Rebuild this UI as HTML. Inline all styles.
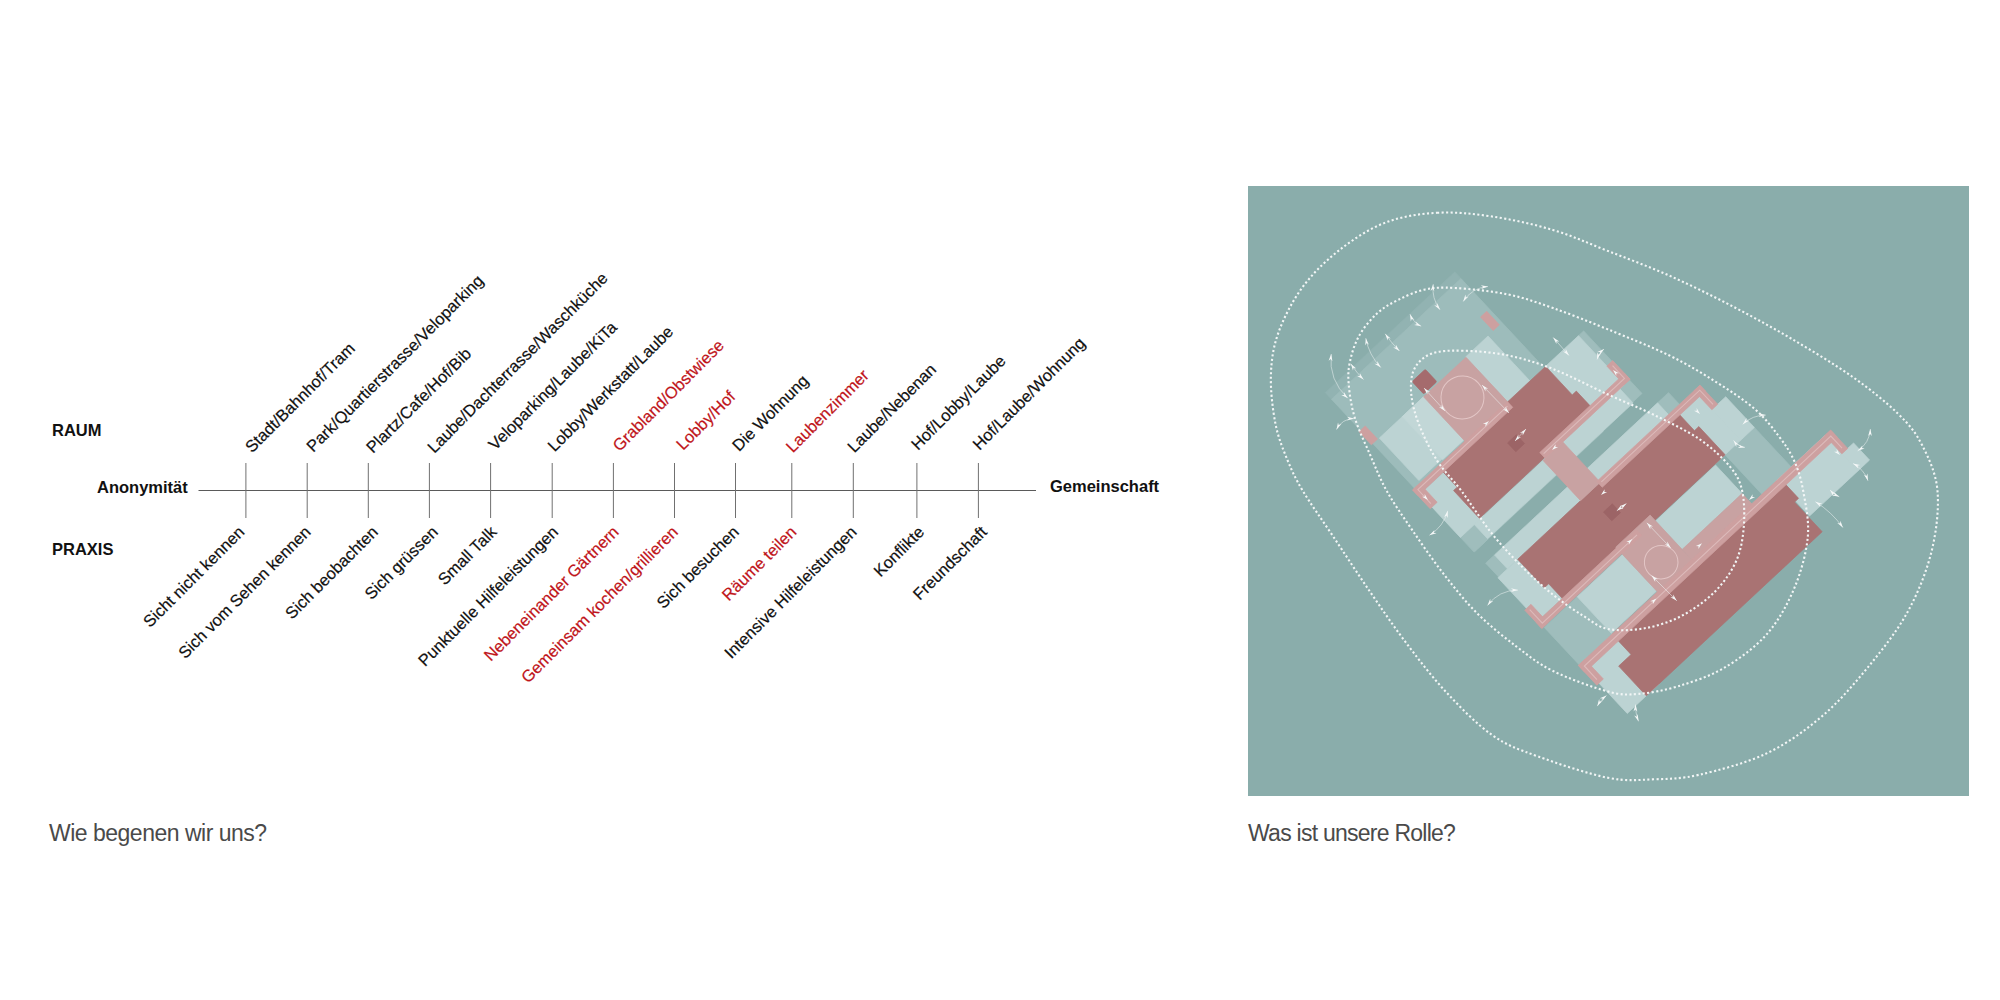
<!DOCTYPE html>
<html><head><meta charset="utf-8">
<style>
html,body{margin:0;padding:0;background:#fff;width:2000px;height:1000px;overflow:hidden}
svg{position:absolute;left:0;top:0}
</style></head><body>
<svg width="2000" height="1000" viewBox="0 0 2000 1000" font-family="Liberation Sans, sans-serif" font-size="16.5">
<text x="52" y="436.3" font-weight="bold" font-size="16.5" fill="#111">RAUM</text>
<text x="52" y="554.5" font-weight="bold" font-size="16.5" fill="#111">PRAXIS</text>
<text x="97" y="493" font-weight="bold" font-size="16.5" fill="#111">Anonymität</text>
<text x="1050" y="492" font-weight="bold" font-size="16.5" fill="#111">Gemeinschaft</text>
<line x1="198.5" y1="490.5" x2="1036" y2="490.5" stroke="#5a5a5a" stroke-width="1"/>
<line x1="245.9" y1="463" x2="245.9" y2="518" stroke="#707070" stroke-width="1"/>
<line x1="307.2" y1="463" x2="307.2" y2="518" stroke="#707070" stroke-width="1"/>
<line x1="368.3" y1="463" x2="368.3" y2="518" stroke="#707070" stroke-width="1"/>
<line x1="429.4" y1="463" x2="429.4" y2="518" stroke="#707070" stroke-width="1"/>
<line x1="490.6" y1="463" x2="490.6" y2="518" stroke="#707070" stroke-width="1"/>
<line x1="552.2" y1="463" x2="552.2" y2="518" stroke="#707070" stroke-width="1"/>
<line x1="613.4" y1="463" x2="613.4" y2="518" stroke="#707070" stroke-width="1"/>
<line x1="674.5" y1="463" x2="674.5" y2="518" stroke="#707070" stroke-width="1"/>
<line x1="735.5" y1="463" x2="735.5" y2="518" stroke="#707070" stroke-width="1"/>
<line x1="791.8" y1="463" x2="791.8" y2="518" stroke="#707070" stroke-width="1"/>
<line x1="853.3" y1="463" x2="853.3" y2="518" stroke="#707070" stroke-width="1"/>
<line x1="916.9" y1="463" x2="916.9" y2="518" stroke="#707070" stroke-width="1"/>
<line x1="978.4" y1="463" x2="978.4" y2="518" stroke="#707070" stroke-width="1"/>
<text transform="translate(251.90,453.50) rotate(-45)" fill="#111" stroke="#111" stroke-width="0.2">Stadt/Bahnhof/Tram</text>
<text transform="translate(313.20,452.90) rotate(-45)" fill="#111" stroke="#111" stroke-width="0.2">Park/Quartierstrasse/Veloparking</text>
<text transform="translate(373.05,454.00) rotate(-45)" fill="#111" stroke="#111" stroke-width="0.2">Plartz/Cafe/Hof/Bib</text>
<text transform="translate(434.15,454.00) rotate(-45)" fill="#111" stroke="#111" stroke-width="0.2">Laube/Dachterrasse/Waschküche</text>
<text transform="translate(495.35,451.00) rotate(-45)" fill="#111" stroke="#111" stroke-width="0.2">Veloparking/Laube/KiTa</text>
<text transform="translate(554.45,452.50) rotate(-45)" fill="#111" stroke="#111" stroke-width="0.2">Lobby/Werkstatt/Laube</text>
<text transform="translate(619.40,452.25) rotate(-45)" fill="#c0141a" stroke="#c0141a" stroke-width="0.2">Grabland/Obstwiese</text>
<text transform="translate(683.00,451.00) rotate(-45)" fill="#c0141a" stroke="#c0141a" stroke-width="0.2">Lobby/Hof</text>
<text transform="translate(739.00,452.25) rotate(-45)" fill="#111" stroke="#111" stroke-width="0.2">Die Wohnung</text>
<text transform="translate(792.80,453.50) rotate(-45)" fill="#c0141a" stroke="#c0141a" stroke-width="0.2">Laubenzimmer</text>
<text transform="translate(854.30,453.50) rotate(-45)" fill="#111" stroke="#111" stroke-width="0.2">Laube/Nebenan</text>
<text transform="translate(917.90,451.00) rotate(-45)" fill="#111" stroke="#111" stroke-width="0.2">Hof/Lobby/Laube</text>
<text transform="translate(979.40,451.00) rotate(-45)" fill="#111" stroke="#111" stroke-width="0.2">Hof/Laube/Wohnung</text>
<text transform="translate(245.40,533) rotate(-45)" text-anchor="end" fill="#111" stroke="#111" stroke-width="0.2">Sicht nicht kennen</text>
<text transform="translate(311.70,533) rotate(-45)" text-anchor="end" fill="#111" stroke="#111" stroke-width="0.2">Sich vom Sehen kennen</text>
<text transform="translate(379.05,533) rotate(-45)" text-anchor="end" fill="#111" stroke="#111" stroke-width="0.2">Sich beobachten</text>
<text transform="translate(438.90,533) rotate(-45)" text-anchor="end" fill="#111" stroke="#111" stroke-width="0.2">Sich grüssen</text>
<text transform="translate(497.60,533) rotate(-45)" text-anchor="end" fill="#111" stroke="#111" stroke-width="0.2">Small Talk</text>
<text transform="translate(559.20,533) rotate(-45)" text-anchor="end" fill="#111" stroke="#111" stroke-width="0.2">Punktuelle Hilfeleistungen</text>
<text transform="translate(619.80,533) rotate(-45)" text-anchor="end" fill="#c0141a" stroke="#c0141a" stroke-width="0.2">Nebeneinander Gärtnern</text>
<text transform="translate(679.00,533) rotate(-45)" text-anchor="end" fill="#c0141a" stroke="#c0141a" stroke-width="0.2">Gemeinsam kochen/grillieren</text>
<text transform="translate(740.00,533) rotate(-45)" text-anchor="end" fill="#111" stroke="#111" stroke-width="0.2">Sich besuchen</text>
<text transform="translate(797.55,533) rotate(-45)" text-anchor="end" fill="#c0141a" stroke="#c0141a" stroke-width="0.2">Räume teilen</text>
<text transform="translate(857.80,533) rotate(-45)" text-anchor="end" fill="#111" stroke="#111" stroke-width="0.2">Intensive Hilfeleistungen</text>
<text transform="translate(925.15,533) rotate(-45)" text-anchor="end" fill="#111" stroke="#111" stroke-width="0.2">Konflikte</text>
<text transform="translate(987.90,533) rotate(-45)" text-anchor="end" fill="#111" stroke="#111" stroke-width="0.2">Freundschaft</text>
<defs><clipPath id="pc"><rect x="1248" y="186" width="721" height="610"/></clipPath></defs><rect x="1248" y="186" width="721" height="610" fill="#8aadab"/>
<g clip-path="url(#pc)"><g transform="translate(1608.5,491) rotate(-43)"><rect x="-140" y="-265" width="177" height="9" fill="#92b3b2" stroke="#92b3b2" stroke-width="0.7" />
<rect x="-140" y="-256" width="177" height="209" fill="#9dbcbb" stroke="#9dbcbb" stroke-width="0.7" />
<rect x="-140" y="56" width="45" height="52" fill="#9fbdbc" stroke="#9fbdbc" stroke-width="0.7" />
<rect x="-139" y="-67" width="18" height="20" fill="#9fbdbc" stroke="#9fbdbc" stroke-width="0.7" />
<rect x="-139" y="-31" width="12" height="19" fill="#9fbdbc" stroke="#9fbdbc" stroke-width="0.7" />
<rect x="-140" y="-12" width="33" height="59" fill="#bcd3d3" stroke="#bcd3d3" stroke-width="0.7" />
<rect x="96" y="-31" width="15" height="84" fill="#9fbdbc" stroke="#9fbdbc" stroke-width="0.7" />
<rect x="110" y="53" width="40" height="54" fill="#9fbdbc" stroke="#9fbdbc" stroke-width="0.7" />
<rect x="-131.5" y="-195" width="60.5" height="58" fill="#bcd3d3" stroke="#bcd3d3" stroke-width="0.7" />
<rect x="-100" y="-195" width="29" height="59" fill="#c2d7d7" stroke="#c2d7d7" stroke-width="0.7" />
<rect x="-13" y="-195.5" width="30.6" height="61.5" fill="#bcd3d3" stroke="#bcd3d3" stroke-width="0.7" />
<rect x="-140" y="-126" width="32" height="59" fill="#bcd3d3" stroke="#bcd3d3" stroke-width="0.7" />
<rect x="39" y="-134" width="52" height="85.5" fill="#9fbdbc" stroke="#9fbdbc" stroke-width="0.7" />
<rect x="39" y="-134" width="45" height="67" fill="#bcd3d3" stroke="#bcd3d3" stroke-width="0.7" />
<rect x="-121" y="-67" width="199" height="19.4" fill="#bcd3d3" stroke="#bcd3d3" stroke-width="0.7" />
<rect x="-127" y="-31" width="223" height="19" fill="#bcd3d3" stroke="#bcd3d3" stroke-width="0.7" />
<rect x="104" y="-7" width="27.5" height="60" fill="#bcd3d3" stroke="#bcd3d3" stroke-width="0.7" />
<rect x="131" y="11" width="19" height="42" fill="#bcd3d3" stroke="#bcd3d3" stroke-width="0.7" />
<rect x="14" y="54" width="82" height="39" fill="#bcd3d3" stroke="#bcd3d3" stroke-width="0.7" />
<rect x="-95" y="56" width="62" height="50" fill="#bcd3d3" stroke="#bcd3d3" stroke-width="0.7" />
<rect x="-138" y="116" width="43" height="59.5" fill="#bcd3d3" stroke="#bcd3d3" stroke-width="0.7" />
<rect x="130" y="107" width="66.5" height="48.4" fill="#bcd3d3" stroke="#bcd3d3" stroke-width="0.7" />
<rect x="196" y="132" width="16" height="23.4" fill="#bcd3d3" stroke="#bcd3d3" stroke-width="0.7" />
<polygon points="-108,-134 39,-134 39,-95 44.6,-95 44.6,-68 -113,-68 -113,-106 -108,-106" fill="#a97373" stroke="#a97373" stroke-width="0.7"/>
<polygon points="-113,-12 104,-12 104,14.5 110,14.5 110,53 -107,53 -107,27 -113,27" fill="#a97373" stroke="#a97373" stroke-width="0.7"/>
<polygon points="-95,108 134,108 134,135 128.5,135 128.5,175.5 -112,175.5 -112,135 -95,135" fill="#a97373" stroke="#a97373" stroke-width="0.7"/>
<rect x="-71" y="-195" width="58" height="61" fill="#c8a2a2" stroke="#c8a2a2" stroke-width="0.7" />
<rect x="-27" y="-67" width="27" height="55" fill="#c8a2a2" stroke="#c8a2a2" stroke-width="0.7" />
<rect x="-33" y="46" width="47" height="62" fill="#c8a2a2" stroke="#c8a2a2" stroke-width="0.7" />
<rect x="14" y="93" width="82" height="15" fill="#c8a2a2" stroke="#c8a2a2" stroke-width="0.7" />
<rect x="-142" y="-213.5" width="8.5" height="18.0" fill="#cda0a0" stroke="#cda0a0" stroke-width="0.7" />
<rect x="25" y="-214.5" width="8.5" height="18.5" fill="#cda0a0" stroke="#cda0a0" stroke-width="0.7" />
<rect x="-69" y="-214" width="18" height="17" fill="#a56b6d" stroke="#a56b6d" stroke-width="0.7" rx="1.5"/>
<rect x="-41" y="-104" width="12" height="12" fill="#9c6466" stroke="#9c6466" stroke-width="0.7" />
<rect x="-18" y="12" width="12" height="12" fill="#9c6466" stroke="#9c6466" stroke-width="0.7" />
<rect x="-142.5" y="-134.4" width="129.5" height="7.9" fill="#cda0a0" stroke="#cda0a0" stroke-width="0.7" />
<rect x="-142.5" y="-134.4" width="9.5" height="25.8" fill="#cda0a0" stroke="#cda0a0" stroke-width="0.7" />
<rect x="-24" y="-75" width="116" height="8" fill="#cda0a0" stroke="#cda0a0" stroke-width="0.7" />
<rect x="84" y="-92.5" width="8" height="25.5" fill="#cda0a0" stroke="#cda0a0" stroke-width="0.7" />
<rect x="-2" y="-15" width="141" height="8" fill="#cda0a0" stroke="#cda0a0" stroke-width="0.7" />
<rect x="131" y="-15" width="8" height="26" fill="#cda0a0" stroke="#cda0a0" stroke-width="0.7" />
<rect x="-142.5" y="47" width="136.5" height="8" fill="#cda0a0" stroke="#cda0a0" stroke-width="0.7" />
<rect x="-142.5" y="30" width="8.5" height="25" fill="#cda0a0" stroke="#cda0a0" stroke-width="0.7" />
<rect x="-141" y="107" width="345" height="9.5" fill="#cda0a0" stroke="#cda0a0" stroke-width="0.7" />
<rect x="-141" y="107" width="9" height="27" fill="#cda0a0" stroke="#cda0a0" stroke-width="0.7" />
<rect x="196" y="107" width="8" height="25" fill="#cda0a0" stroke="#cda0a0" stroke-width="0.7" />
<polyline points="-16,-131 -138.5,-131 -138.5,-112" fill="none" stroke="#dcbaba" stroke-width="1.1"/>
<polyline points="-22,-71.5 88.5,-71.5 88.5,-89" fill="none" stroke="#dcbaba" stroke-width="1.1"/>
<polyline points="1,-11.5 135.5,-11.5 135.5,8" fill="none" stroke="#dcbaba" stroke-width="1.1"/>
<polyline points="-9,51.5 -138.5,51.5 -138.5,33" fill="none" stroke="#dcbaba" stroke-width="1.1"/>
<polyline points="-137,130 -137,111.5 200,111.5 200,128" fill="none" stroke="#dcbaba" stroke-width="1.1"/>
<circle cx="-43" cy="-168" r="21.5" fill="none" stroke="#e3c6c6" stroke-width="1"/>
<circle cx="-10" cy="88" r="16.8" fill="none" stroke="#e3c6c6" stroke-width="1"/></g><path d="M1437.1,212.8 C1454.9,211.8 1472.7,213.6 1492.0,216.5 C1511.3,219.4 1533.7,224.2 1553.0,230.0 C1572.3,235.8 1588.7,243.4 1608.0,251.0 C1627.3,258.6 1648.7,266.5 1669.0,275.5 C1689.3,284.5 1709.7,294.5 1730.0,305.0 C1750.3,315.5 1770.7,326.6 1791.0,338.5 C1811.3,350.4 1834.2,364.0 1852.0,376.5 C1869.8,389.0 1886.1,402.0 1897.8,413.5 C1909.5,425.0 1915.6,432.4 1922.2,445.3 C1928.8,458.2 1936.0,473.2 1937.5,491.0 C1939.0,508.8 1936.5,531.7 1931.4,552.0 C1926.3,572.3 1917.7,593.7 1907.0,613.0 C1896.3,632.3 1881.5,650.7 1867.3,668.0 C1853.0,685.3 1838.3,702.5 1821.5,716.7 C1804.7,730.9 1786.9,743.7 1766.6,753.4 C1746.3,763.1 1718.3,770.4 1699.5,774.7 C1680.7,779.0 1669.0,778.8 1653.8,779.3 C1638.5,779.8 1627.3,781.6 1608.0,777.8 C1588.7,774.0 1557.1,763.5 1537.8,756.4 C1518.5,749.3 1507.2,745.7 1492.0,735.0 C1476.8,724.3 1460.5,707.5 1446.3,692.3 C1432.1,677.0 1419.3,660.3 1406.6,643.5 C1393.9,626.7 1382.2,609.5 1370.0,591.7 C1357.8,573.9 1344.6,553.6 1333.4,536.8 C1322.2,520.0 1310.5,503.7 1302.9,491.0 C1295.3,478.3 1292.3,471.8 1287.7,460.6 C1283.1,449.4 1278.3,438.2 1275.5,424.0 C1272.7,409.8 1270.4,390.4 1270.9,375.1 C1271.4,359.8 1273.2,347.1 1278.5,332.4 C1283.8,317.7 1292.7,300.4 1302.9,286.7 C1313.1,273.0 1325.8,260.7 1339.5,250.0 C1353.2,239.3 1369.0,228.8 1385.3,222.6 C1401.6,216.4 1419.3,213.8 1437.1,212.8Z" fill="none" stroke="#f2f6f6" stroke-width="2.1" stroke-dasharray="2.1 2.4"/>
<path d="M1455.0,288.0 C1468.7,288.8 1491.0,291.0 1507.3,294.3 C1523.6,297.6 1536.2,302.1 1553.0,308.0 C1569.8,313.9 1588.7,321.5 1608.0,329.4 C1627.3,337.3 1651.2,346.7 1669.0,355.3 C1686.8,363.9 1700.6,372.3 1714.8,381.2 C1729.0,390.1 1743.7,399.5 1754.4,408.7 C1765.1,417.9 1772.2,427.5 1778.8,436.2 C1785.4,444.9 1790.0,451.5 1794.1,460.6 C1798.2,469.7 1800.9,478.3 1803.2,491.0 C1805.5,503.7 1809.3,520.5 1807.8,536.8 C1806.3,553.1 1801.0,572.3 1794.1,588.6 C1787.2,604.9 1778.3,621.2 1766.6,634.4 C1754.9,647.6 1738.6,659.4 1723.9,668.0 C1709.2,676.6 1692.4,681.9 1678.2,686.2 C1664.0,690.5 1650.2,693.0 1638.5,693.9 C1626.8,694.8 1622.2,695.3 1608.0,691.5 C1593.8,687.7 1568.2,678.5 1553.0,671.0 C1537.8,663.5 1529.2,656.3 1516.5,646.6 C1503.8,636.9 1489.0,625.2 1476.8,613.0 C1464.6,600.8 1453.9,587.1 1443.2,573.4 C1432.5,559.7 1422.1,544.4 1412.7,530.7 C1403.3,517.0 1393.9,503.7 1386.8,491.0 C1379.7,478.3 1375.3,466.7 1370.0,454.5 C1364.7,442.3 1358.3,429.5 1354.8,417.8 C1351.2,406.1 1349.5,393.7 1348.7,384.3 C1347.9,374.9 1348.3,369.6 1350.0,361.5 C1351.7,353.4 1354.5,344.0 1359.0,336.0 C1363.5,328.0 1370.5,319.5 1377.0,313.5 C1383.5,307.5 1390.0,304.0 1398.0,300.0 C1406.0,296.0 1415.5,291.5 1425.0,289.5 C1434.5,287.5 1441.3,287.2 1455.0,288.0Z" fill="none" stroke="#f2f6f6" stroke-width="2.1" stroke-dasharray="2.1 2.4"/>
<path d="M1461.5,350.7 C1474.2,350.9 1492.0,352.2 1507.3,355.3 C1522.5,358.4 1536.2,362.5 1553.0,369.0 C1569.8,375.5 1591.2,386.9 1608.0,394.5 C1624.8,402.1 1638.5,407.4 1653.8,414.8 C1669.0,422.2 1686.8,430.6 1699.5,439.2 C1712.2,447.8 1722.9,458.1 1730.0,466.7 C1737.1,475.3 1739.9,480.9 1742.2,491.0 C1744.5,501.1 1744.7,515.9 1743.7,527.6 C1742.7,539.3 1740.9,550.5 1736.1,561.2 C1731.3,571.9 1723.9,582.6 1714.8,591.7 C1705.7,600.9 1692.9,610.0 1681.2,616.1 C1669.5,622.2 1656.8,626.1 1644.6,628.3 C1632.4,630.4 1618.2,631.0 1608.0,629.0 C1597.8,627.0 1592.8,621.8 1583.6,616.1 C1574.4,610.4 1563.2,602.8 1553.0,594.7 C1542.8,586.6 1532.8,577.5 1522.6,567.3 C1512.4,557.1 1502.2,546.4 1492.0,533.7 C1481.8,521.0 1470.7,503.2 1461.5,491.0 C1452.3,478.8 1444.2,471.8 1437.1,460.6 C1430.0,449.4 1423.1,435.2 1418.8,424.0 C1414.5,412.8 1412.0,402.6 1411.2,393.4 C1410.5,384.2 1411.0,375.6 1414.3,369.0 C1417.6,362.4 1423.1,356.9 1431.0,353.8 C1438.9,350.8 1448.8,350.4 1461.5,350.7Z" fill="none" stroke="#f2f6f6" stroke-width="2.1" stroke-dasharray="2.1 2.4"/><path d="M1331.2,354.0 Q1328.4,380.2 1347.8,398.2" fill="none" stroke="#eef3f3" stroke-width="0.75" opacity="0.7"/>
<polygon points="1331.2,354.0 1332.4,361.2 1330.7,358.9 1328.6,360.8" fill="#f4f7f7"/>
<polygon points="1347.8,398.2 1341.3,394.9 1344.2,394.9 1343.9,392.1" fill="#f4f7f7"/>
<path d="M1365.8,338.2 Q1368.9,355.1 1380.8,367.5" fill="none" stroke="#eef3f3" stroke-width="0.75" opacity="0.7"/>
<polygon points="1365.8,338.2 1368.9,344.8 1366.6,343.1 1365.2,345.5" fill="#f4f7f7"/>
<polygon points="1380.8,367.5 1374.5,363.8 1377.4,364.0 1377.3,361.1" fill="#f4f7f7"/>
<path d="M1385.2,333.8 Q1391.5,343.1 1399.5,351.0" fill="none" stroke="#eef3f3" stroke-width="0.75" opacity="0.7"/>
<polygon points="1385.2,333.8 1390.7,338.5 1388.0,337.8 1387.6,340.6" fill="#f4f7f7"/>
<polygon points="1399.5,351.0 1393.2,347.4 1396.0,347.6 1395.9,344.7" fill="#f4f7f7"/>
<path d="M1410.0,314.2 Q1413.2,322.5 1421.2,326.2" fill="none" stroke="#eef3f3" stroke-width="0.75" opacity="0.7"/>
<polygon points="1410.0,314.2 1414.3,320.1 1411.8,318.8 1410.8,321.5" fill="#f4f7f7"/>
<polygon points="1421.2,326.2 1414.1,325.0 1416.8,324.2 1415.7,321.6" fill="#f4f7f7"/>
<path d="M1433.2,284.2 Q1431.5,298.4 1440.0,309.8" fill="none" stroke="#eef3f3" stroke-width="0.75" opacity="0.7"/>
<polygon points="1433.2,284.2 1434.3,291.4 1432.7,289.1 1430.5,291.0" fill="#f4f7f7"/>
<polygon points="1440.0,309.8 1434.3,305.3 1437.1,305.8 1437.3,303.0" fill="#f4f7f7"/>
<path d="M1463.2,301.5 Q1471.9,287.8 1488.0,286.5" fill="none" stroke="#eef3f3" stroke-width="0.75" opacity="0.7"/>
<polygon points="1463.2,301.5 1465.4,294.6 1465.9,297.4 1468.6,296.6" fill="#f4f7f7"/>
<polygon points="1488.0,286.5 1481.2,289.0 1483.1,286.9 1480.9,285.2" fill="#f4f7f7"/>
<path d="M1350.8,363.8 Q1356.3,372.3 1363.5,379.5" fill="none" stroke="#eef3f3" stroke-width="0.75" opacity="0.7"/>
<polygon points="1350.8,363.8 1356.2,368.6 1353.4,367.8 1353.0,370.6" fill="#f4f7f7"/>
<polygon points="1363.5,379.5 1357.2,375.9 1360.1,376.0 1359.9,373.2" fill="#f4f7f7"/>
<path d="M1336.5,429.5 Q1342.0,418.8 1354.0,418.5" fill="none" stroke="#eef3f3" stroke-width="0.75" opacity="0.7"/>
<polygon points="1336.5,429.5 1338.0,422.4 1338.7,425.1 1341.4,424.1" fill="#f4f7f7"/>
<polygon points="1354.0,418.5 1347.0,420.5 1349.1,418.6 1347.0,416.7" fill="#f4f7f7"/>
<path d="M1553.2,337.5 Q1561.1,346.5 1569.0,355.5" fill="none" stroke="#eef3f3" stroke-width="0.75" opacity="0.7"/>
<polygon points="1553.2,337.5 1559.3,341.5 1556.5,341.2 1556.4,344.0" fill="#f4f7f7"/>
<polygon points="1569.0,355.5 1563.0,351.5 1565.8,351.8 1565.8,349.0" fill="#f4f7f7"/>
<path d="M1604.0,349.0 Q1598.9,353.1 1597.0,359.4" fill="none" stroke="#eef3f3" stroke-width="0.75" opacity="0.7"/>
<polygon points="1604.0,349.0 1599.8,354.9 1600.2,352.1 1597.4,352.0" fill="#f4f7f7"/>
<polygon points="1597.0,359.4 1597.3,352.2 1598.5,354.7 1600.9,353.3" fill="#f4f7f7"/>
<path d="M1765.7,415.1 Q1752.4,415.1 1742.7,424.3" fill="none" stroke="#eef3f3" stroke-width="0.75" opacity="0.7"/>
<polygon points="1765.7,415.1 1758.7,417.0 1760.8,415.1 1758.7,413.2" fill="#f4f7f7"/>
<polygon points="1742.7,424.3 1746.5,418.1 1746.2,420.9 1749.1,420.8" fill="#f4f7f7"/>
<path d="M1733.5,440.4 Q1737.8,446.2 1745.0,447.4" fill="none" stroke="#eef3f3" stroke-width="0.75" opacity="0.7"/>
<polygon points="1733.5,440.4 1739.2,444.9 1736.4,444.3 1736.2,447.1" fill="#f4f7f7"/>
<polygon points="1745.0,447.4 1737.8,448.1 1740.2,446.6 1738.4,444.4" fill="#f4f7f7"/>
<path d="M1870.4,429.0 Q1869.5,443.1 1857.7,450.8" fill="none" stroke="#eef3f3" stroke-width="0.75" opacity="0.7"/>
<polygon points="1870.4,429.0 1871.8,436.1 1870.1,433.9 1868.1,435.9" fill="#f4f7f7"/>
<polygon points="1857.7,450.8 1862.5,445.4 1861.8,448.1 1864.6,448.6" fill="#f4f7f7"/>
<path d="M1853.0,463.5 Q1863.9,469.1 1868.0,480.7" fill="none" stroke="#eef3f3" stroke-width="0.75" opacity="0.7"/>
<polygon points="1853.0,463.5 1860.1,465.0 1857.4,465.7 1858.4,468.4" fill="#f4f7f7"/>
<polygon points="1868.0,480.7 1863.9,474.7 1866.4,476.1 1867.5,473.5" fill="#f4f7f7"/>
<path d="M1830.0,490.0 Q1834.0,494.3 1839.3,496.8" fill="none" stroke="#eef3f3" stroke-width="0.75" opacity="0.7"/>
<polygon points="1830.0,490.0 1836.1,493.9 1833.3,493.6 1833.3,496.4" fill="#f4f7f7"/>
<polygon points="1839.3,496.8 1832.1,495.6 1834.9,494.7 1833.7,492.1" fill="#f4f7f7"/>
<path d="M1815.4,501.7 Q1831.7,511.9 1842.9,527.6" fill="none" stroke="#eef3f3" stroke-width="0.75" opacity="0.7"/>
<polygon points="1815.4,501.7 1822.3,503.8 1819.6,504.3 1820.3,507.0" fill="#f4f7f7"/>
<polygon points="1842.9,527.6 1837.3,523.0 1840.1,523.6 1840.4,520.8" fill="#f4f7f7"/>
<path d="M1635.5,704.5 Q1635.3,713.2 1638.5,721.3" fill="none" stroke="#eef3f3" stroke-width="0.75" opacity="0.7"/>
<polygon points="1635.5,704.5 1637.3,711.5 1635.4,709.4 1633.5,711.5" fill="#f4f7f7"/>
<polygon points="1638.5,721.3 1634.2,715.5 1636.7,716.7 1637.7,714.1" fill="#f4f7f7"/>
<path d="M1447.8,510.8 Q1443.5,526.7 1429.5,535.2" fill="none" stroke="#eef3f3" stroke-width="0.75" opacity="0.7"/>
<polygon points="1447.8,510.8 1447.8,518.1 1446.5,515.5 1444.1,517.1" fill="#f4f7f7"/>
<polygon points="1429.5,535.2 1434.5,529.9 1433.7,532.7 1436.5,533.2" fill="#f4f7f7"/>
<path d="M1518.0,590.1 Q1498.9,590.1 1487.5,605.4" fill="none" stroke="#eef3f3" stroke-width="0.75" opacity="0.7"/>
<polygon points="1518.0,590.1 1511.0,592.0 1513.1,590.1 1511.0,588.2" fill="#f4f7f7"/>
<polygon points="1487.5,605.4 1490.2,598.7 1490.4,601.5 1493.2,600.9" fill="#f4f7f7"/>
<path d="M1606.5,695.4 Q1600.8,699.8 1597.3,706.1" fill="none" stroke="#eef3f3" stroke-width="0.75" opacity="0.7"/>
<polygon points="1606.5,695.4 1602.2,701.2 1602.6,698.4 1599.8,698.2" fill="#f4f7f7"/>
<polygon points="1597.3,706.1 1599.1,699.1 1599.7,701.8 1602.4,700.9" fill="#f4f7f7"/>
<path d="M1424.0,388.0 Q1434.5,399.5 1445.0,411.0" fill="none" stroke="#eef3f3" stroke-width="0.75" opacity="0.7"/>
<polygon points="1424.0,388.0 1430.1,391.9 1427.3,391.6 1427.3,394.5" fill="#f4f7f7"/>
<polygon points="1445.0,411.0 1438.9,407.1 1441.7,407.4 1441.7,404.5" fill="#f4f7f7"/>
<path d="M1482.0,385.0 Q1495.5,399.0 1509.0,413.0" fill="none" stroke="#eef3f3" stroke-width="0.75" opacity="0.7"/>
<polygon points="1482.0,385.0 1488.2,388.7 1485.4,388.5 1485.5,391.4" fill="#f4f7f7"/>
<polygon points="1509.0,413.0 1502.8,409.3 1505.6,409.5 1505.5,406.6" fill="#f4f7f7"/>
<path d="M1515.0,441.0 Q1520.5,435.0 1526.0,429.0" fill="none" stroke="#eef3f3" stroke-width="0.75" opacity="0.7"/>
<polygon points="1515.0,441.0 1518.3,434.6 1518.3,437.4 1521.1,437.1" fill="#f4f7f7"/>
<polygon points="1526.0,429.0 1522.7,435.4 1522.7,432.6 1519.9,432.9" fill="#f4f7f7"/>
<path d="M1646.8,522.8 Q1658.8,535.4 1670.8,548.0" fill="none" stroke="#eef3f3" stroke-width="0.75" opacity="0.7"/>
<polygon points="1646.8,522.8 1653.0,526.6 1650.2,526.3 1650.3,529.2" fill="#f4f7f7"/>
<polygon points="1670.8,548.0 1664.6,544.2 1667.4,544.5 1667.3,541.6" fill="#f4f7f7"/>
<path d="M1651.6,575.6 Q1664.2,588.2 1676.8,600.8" fill="none" stroke="#eef3f3" stroke-width="0.75" opacity="0.7"/>
<polygon points="1651.6,575.6 1657.9,579.2 1655.1,579.1 1655.2,581.9" fill="#f4f7f7"/>
<polygon points="1676.8,600.8 1670.5,597.2 1673.3,597.3 1673.2,594.5" fill="#f4f7f7"/>
<path d="M1616.8,510.8 Q1621.6,507.2 1626.4,503.6" fill="none" stroke="#eef3f3" stroke-width="0.75" opacity="0.7"/>
<polygon points="1616.8,510.8 1621.3,505.1 1620.7,507.9 1623.5,508.1" fill="#f4f7f7"/>
<polygon points="1626.4,503.6 1621.9,509.3 1622.5,506.5 1619.7,506.3" fill="#f4f7f7"/>
<polygon points="1489.0,421.0 1485.4,426.8 1485.6,424.0 1482.9,423.9" fill="#f4f7f7"/>
<polygon points="1552.0,450.0 1555.6,444.2 1555.4,447.0 1558.1,447.1" fill="#f4f7f7"/>
<polygon points="1613.0,370.0 1618.9,373.3 1616.2,373.2 1616.3,375.9" fill="#f4f7f7"/>
<polygon points="1428.0,500.0 1422.1,496.7 1424.8,496.8 1424.7,494.1" fill="#f4f7f7"/>
<polygon points="1632.4,539.0 1628.8,544.8 1629.0,542.0 1626.3,541.9" fill="#f4f7f7"/>
<polygon points="1702.0,543.2 1698.4,549.0 1698.6,546.2 1695.9,546.1" fill="#f4f7f7"/>
<polygon points="1656.4,598.4 1652.8,604.2 1653.0,601.4 1650.3,601.3" fill="#f4f7f7"/>
<polygon points="1840.0,455.0 1834.1,451.7 1836.8,451.8 1836.7,449.1" fill="#f4f7f7"/>
<polygon points="1749.0,500.0 1752.6,494.2 1752.4,497.0 1755.1,497.1" fill="#f4f7f7"/>
<polygon points="1700.0,414.0 1694.1,410.7 1696.8,410.8 1696.7,408.1" fill="#f4f7f7"/>
<polygon points="1601.0,495.0 1604.6,489.2 1604.4,492.0 1607.1,492.1" fill="#f4f7f7"/></g>
<text x="49" y="840.5" font-size="23" letter-spacing="-0.5" fill="#4a4a4a">Wie begenen wir uns?</text>
<text x="1248" y="840.5" font-size="23" letter-spacing="-0.75" fill="#4a4a4a">Was ist unsere Rolle?</text>
</svg>

</body></html>
